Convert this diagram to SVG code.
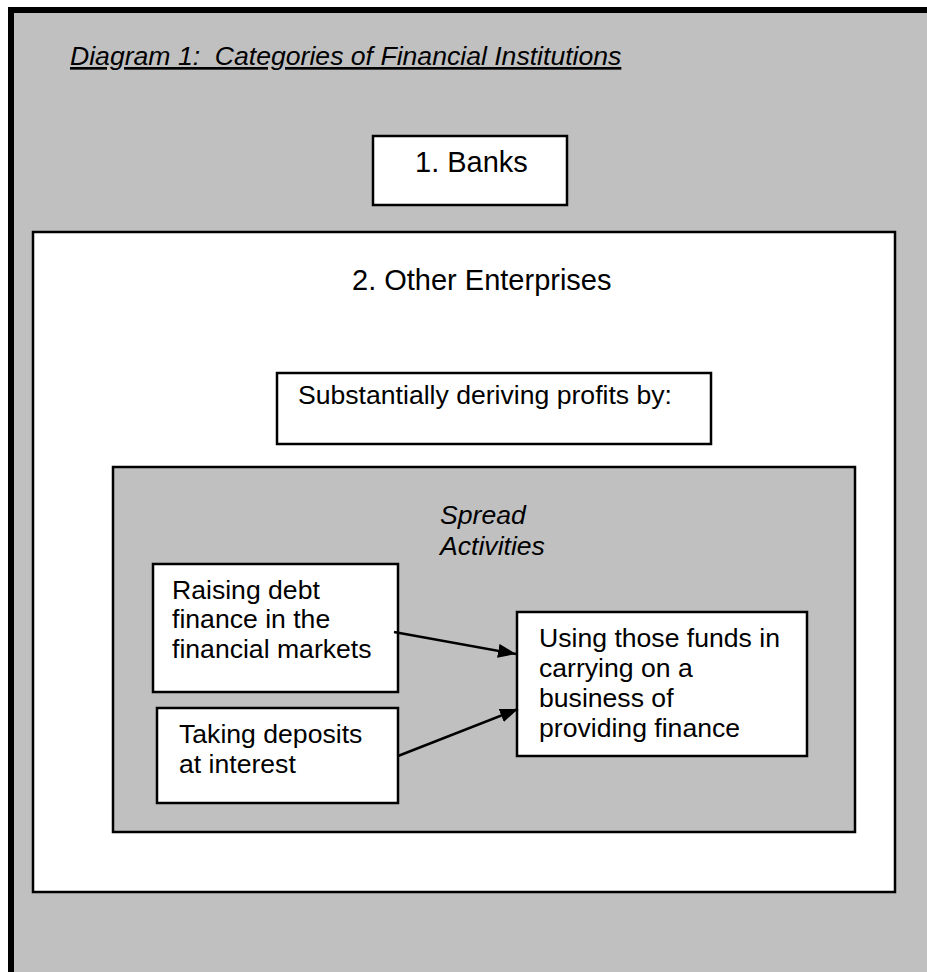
<svg xmlns="http://www.w3.org/2000/svg" width="927" height="972" viewBox="0 0 927 972">
<style>
.t{font-family:"Liberation Sans",Arial,sans-serif;fill:#000;font-size:26.6px}
.big{font-size:29px}
.it{font-style:italic}
.box{fill:#fff;stroke:#000;stroke-width:2.5}
.gbox{fill:#c0c0c0;stroke:#000;stroke-width:2.5}
.conn{stroke:#000;stroke-width:2.5;fill:none}
</style>
<defs>
<marker id="ah" markerUnits="userSpaceOnUse" markerWidth="20" markerHeight="16" refX="18" refY="7" orient="auto">
<path d="M0,0 L18,7 L0,14 Z" fill="#000"/>
</marker>
</defs>
<rect x="0" y="0" width="927" height="972" fill="#fff"/>
<g id="frame">
<rect x="8" y="7" width="919" height="965" fill="#c0c0c0"/>
<rect x="8" y="7" width="6" height="965" fill="#000"/>
<rect x="8" y="7" width="919" height="6" fill="#000"/>
</g>
<g id="title">
<text class="t it" x="70" y="65" xml:space="preserve" style="text-decoration:underline;white-space:pre">Diagram 1:  Categories of Financial Institutions</text>
</g>
<g id="banks">
<rect class="box" x="373" y="136" width="194" height="69"/>
<text class="t big" x="415" y="172">1. Banks</text>
</g>
<g id="other">
<rect class="box" x="33" y="232" width="862" height="660"/>
<text class="t big" x="352" y="290">2. Other Enterprises</text>
</g>
<g id="substantially">
<rect class="box" x="277" y="373" width="434" height="71"/>
<text class="t" x="298" y="404">Substantially deriving profits by:</text>
</g>
<g id="spread">
<rect class="gbox" x="113" y="467" width="742" height="365"/>
<text class="t it" x="440" y="524">Spread</text>
<text class="t it" x="440" y="555">Activities</text>
</g>
<g id="raising">
<rect class="box" x="153" y="564" width="245" height="128"/>
<text class="t" x="172" y="599">Raising debt</text>
<text class="t" x="172" y="628">finance in the</text>
<text class="t" x="172" y="658">financial markets</text>
</g>
<g id="taking">
<rect class="box" x="157" y="708" width="241" height="95"/>
<text class="t" x="179" y="743">Taking deposits</text>
<text class="t" x="179" y="773">at interest</text>
</g>
<g id="using">
<rect class="box" x="517" y="612" width="290" height="144"/>
<text class="t" x="539" y="647">Using those funds in</text>
<text class="t" x="539" y="677">carrying on a</text>
<text class="t" x="539" y="707">business of</text>
<text class="t" x="539" y="737">providing finance</text>
</g>
<g id="connectors">
<line class="conn" x1="394" y1="632" x2="516" y2="654" marker-end="url(#ah)"/>
<line class="conn" x1="398" y1="756" x2="518" y2="709" marker-end="url(#ah)"/>
</g>
</svg>
